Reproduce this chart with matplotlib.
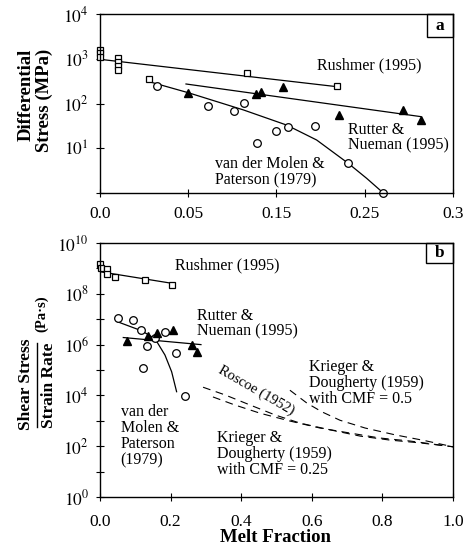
import matplotlib
matplotlib.use("Agg")
import matplotlib.pyplot as plt
from matplotlib.patches import Rectangle
from matplotlib.lines import Line2D
from matplotlib.ticker import NullLocator, FixedLocator, NullFormatter

plt.rcParams['font.family'] = 'Liberation Serif'
plt.rcParams['mathtext.fontset'] = 'stix'

# (a) differential stress vs melt fraction
rush_a_x = [0, 0, 0, 0.0156, 0.0156, 0.0156, 0.0156, 0.0419, 0.1252, 0.2011]
rush_a_y = [1600, 1350, 1100, 1050, 850, 700, 560, 348, 473, 246]
rutter_a_x = [0.0751, 0.1326, 0.1368, 0.1553, 0.2034, 0.2578, 0.2725]
rutter_a_y = [169, 163, 184, 230, 55, 72, 43]
vdm_a_x = [0.0487, 0.0915, 0.1141, 0.1224, 0.1331, 0.150, 0.160, 0.1827, 0.211, 0.2408]
vdm_a_y = [246, 88, 69, 101, 12.9, 24.7, 30.3, 32, 4.6, 1.0]

rush_fit_a_x = [0, 0.2011]
rush_fit_a_y = [972, 238]
rutter_fit_a_x = [0.0731, 0.2725]
rutter_fit_a_y = [273, 51]
vdm_fit_a_x = [0.0419, 0.0751, 0.1218, 0.1586, 0.1841, 0.211, 0.2266, 0.2408]
vdm_fit_a_y = [307, 174, 72, 33, 15.3, 4.6, 2.13, 1.0]

xticks_a = [0, 0.075, 0.15, 0.225, 0.3]
xticklabels_a = ['0.0', '0.05', '0.15', '0.25', '0.3']

# (b) shear stress / strain rate vs melt fraction
rush_b_x = [0, 0.003, 0.019, 0.019, 0.0425, 0.127, 0.203]
rush_b_y = [1.45e9, 1.07e9, 9.5e8, 6.0e8, 4.7e8, 3.5e8, 2.3e8]
rutter_b_x = [0.0755, 0.137, 0.1605, 0.2077, 0.2597, 0.274]
rutter_b_y = [1.4e6, 2.2e6, 2.75e6, 3.7e6, 9.5e5, 5.2e5]
vdm_b_x = [0.050, 0.0944, 0.116, 0.123, 0.134, 0.156, 0.184, 0.214, 0.241]
vdm_b_y = [1.1e7, 9.3e6, 3.7e6, 1.2e5, 9.1e5, 1.8e6, 3.2e6, 4.8e5, 9.8e3]

rush_fit_b_x = [0, 0.203]
rush_fit_b_y = [7.4e8, 2.6e8]
rutter_fit_b_x = [0.066, 0.286]
rutter_fit_b_y = [1.9e6, 1.0e6]
vdm_fit_b_x = [0.050, 0.118, 0.156, 0.184, 0.203, 0.217]
vdm_fit_b_y = [7.9e6, 3.5e6, 1.7e6, 3.9e5, 8.5e4, 1.4e4]

roscoe_x = [0.292, 0.354, 0.425, 0.496, 0.567, 0.652, 0.737, 0.82, 0.907, 1.0]
roscoe_y = [21000, 10500, 4200, 1700, 810, 440, 250, 175, 135, 95]
kd25_x = [0.32, 0.382, 0.453, 0.538, 0.623, 0.708, 0.793, 0.878, 1.0]
kd25_y = [8700, 4200, 2000, 980, 520, 330, 210, 160, 95]
kd50_x = [0.538, 0.586, 0.629, 0.68, 0.751, 0.836, 0.921, 1.0]
kd50_y = [16000, 5000, 2240, 1050, 520, 280, 165, 95]

fig = plt.figure(figsize=(4.69, 5.58), dpi=100)
ax1 = fig.add_axes([0.2132, 0.6541, 0.7527, 0.3208])
ax2 = fig.add_axes([0.2132, 0.1093, 0.7527, 0.4552])

lw = 0.9
sq = dict(marker='s', ms=5, mfc='white', mec='black', mew=0.9, ls='none', clip_on=False)
ci = dict(marker='o', ms=5.5, mfc='white', mec='black', mew=0.9, ls='none', clip_on=False)
tr = dict(marker='^', ms=6, mfc='black', mec='black', ls='none', clip_on=False)

# panel a
ax1.plot(rush_fit_a_x, rush_fit_a_y, 'k-', lw=lw)
ax1.plot(rutter_fit_a_x, rutter_fit_a_y, 'k-', lw=lw)
ax1.plot(vdm_fit_a_x, vdm_fit_a_y, 'k-', lw=lw)
ax1.plot(rush_a_x, rush_a_y, **sq)
ax1.plot(vdm_a_x, vdm_a_y, **ci)
ax1.plot(rutter_a_x, rutter_a_y, **tr)
ax1.set_yscale('log')
ax1.set_ylim(1, 1e4)
ax1.set_xlim(0, 0.3)
ax1.yaxis.set_major_locator(FixedLocator([1, 10, 100, 1000, 10000]))
ax1.set_yticklabels(['', '$10^1$', '$10^2$', '$10^3$', '$10^4$'])
ax1.yaxis.set_minor_locator(NullLocator())
ax1.set_xticks(xticks_a)
ax1.set_xticklabels(xticklabels_a)
ax1.tick_params(axis='x', direction='inout', length=6, width=0.8, labelsize=12.5, pad=6)
ax1.tick_params(axis='y', direction='inout', length=6, width=0.8, labelsize=12.5, pad=5)

fs = 11.5
ax1.text(0.6156, 0.711, 'Rushmer (1995)', transform=ax1.transAxes, fontsize=fs, va='center')
ax1.text(0.7034, 0.310, 'Rutter &\nNueman (1995)', transform=ax1.transAxes, fontsize=fs,
         va='center', linespacing=1.0)
ax1.text(0.3258, 0.117, 'van der Molen &\nPaterson (1979)', transform=ax1.transAxes, fontsize=fs,
         va='center', linespacing=1.0)
ax1.add_patch(Rectangle((1 - 0.0737, 1 - 0.1285), 0.0737, 0.1285, transform=ax1.transAxes,
                        fill=False, lw=1.0, clip_on=False))
ax1.text(1 - 0.0737 / 2, 1 - 0.1285 / 2, 'a', transform=ax1.transAxes, fontsize=12.5,
         fontweight='bold', ha='center', va='center')

# panel b
ax2.plot(rush_fit_b_x, rush_fit_b_y, 'k-', lw=lw)
ax2.plot(rutter_fit_b_x, rutter_fit_b_y, 'k-', lw=lw)
ax2.plot(vdm_fit_b_x, vdm_fit_b_y, 'k-', lw=lw)
ax2.plot(rush_b_x, rush_b_y, **sq)
ax2.plot(vdm_b_x, vdm_b_y, **ci)
ax2.plot(rutter_b_x, rutter_b_y, **tr)
dash = (0, (7, 5))
ax2.plot(roscoe_x, roscoe_y, color='k', lw=0.8, ls=dash)
ax2.plot(kd25_x, kd25_y, color='k', lw=0.8, ls=dash)
ax2.plot(kd50_x, kd50_y, color='k', lw=0.8, ls=dash)
ax2.set_yscale('log')
ax2.set_ylim(1, 1e10)
ax2.set_xlim(0, 1.0)
ax2.yaxis.set_major_locator(FixedLocator([1, 1e2, 1e4, 1e6, 1e8, 1e10]))
ax2.set_yticklabels(['$10^0$', '$10^2$', '$10^4$', '$10^6$', '$10^8$', '$10^{10}$'])
ax2.yaxis.set_minor_locator(FixedLocator([10, 1e3, 1e5, 1e7, 1e9]))
ax2.yaxis.set_minor_formatter(NullFormatter())
ax2.set_xticks([0, 0.2, 0.4, 0.6, 0.8, 1.0])
ax2.set_xticklabels(['0.0', '0.2', '0.4', '0.6', '0.8', '1.0'])
ax2.tick_params(axis='x', direction='inout', length=6, width=0.8, labelsize=12.5, pad=9)
ax2.tick_params(axis='y', which='both', direction='inout', length=6, width=0.8,
                labelsize=12.5, pad=5)

ax2.text(0.2125, 0.913, 'Rushmer (1995)', transform=ax2.transAxes, fontsize=fs, va='center')
ax2.text(0.275, 0.683, 'Rutter &\nNueman (1995)', transform=ax2.transAxes, fontsize=fs,
         va='center', linespacing=0.95)
ax2.text(0.0586, 0.240, 'van der\nMolen &\nPaterson\n(1979)', transform=ax2.transAxes,
         fontsize=fs, va='center', linespacing=1.0)
ax2.text(0.3306, 0.169, 'Krieger &\nDougherty (1959)\nwith CMF = 0.25', transform=ax2.transAxes,
         fontsize=fs, va='center', linespacing=1.0)
ax2.text(0.591, 0.450, 'Krieger &\nDougherty (1959)\nwith CMF = 0.5', transform=ax2.transAxes,
         fontsize=fs, va='center', linespacing=1.0)
ax2.text(0.444, 10 ** 4.21, 'Roscoe (1952)', fontsize=10.5, rotation=-30,
         ha='center', va='center', rotation_mode='anchor')
ax2.add_patch(Rectangle((1 - 0.0765, 1 - 0.0787), 0.0765, 0.0787, transform=ax2.transAxes,
                        fill=False, lw=1.0, clip_on=False))
ax2.text(1 - 0.0765 / 2, 1 - 0.0787 / 2, 'b', transform=ax2.transAxes, fontsize=12.5,
         fontweight='bold', ha='center', va='center')

for ax in (ax1, ax2):
    for s in ax.spines.values():
        s.set_linewidth(1.0)

# axis titles
W, H = 469.0, 558.0
fig.text(26 / W, 1 - 95 / H, 'Differential', rotation=90, fontsize=13.5, fontweight='bold',
         ha='center', va='center')
fig.text(44 / W, 1 - 100 / H, 'Stress (MPa)', rotation=90, fontsize=13.5, fontweight='bold',
         ha='center', va='center')
fig.text(26 / W, 1 - 384 / H, 'Shear Stress', rotation=90, fontsize=12.5, fontweight='bold',
         ha='center', va='center')
fig.text(49 / W, 1 - 385 / H, 'Strain Rate', rotation=90, fontsize=12.5, fontweight='bold',
         ha='center', va='center')
fig.add_artist(Line2D([37 / W, 37 / W], [1 - 427 / H, 1 - 343 / H], color='k', lw=1.0))
fig.text(42 / W, 1 - 314 / H, '(Pa·s)', rotation=90, fontsize=10.5, fontweight='bold',
         ha='center', va='center')
fig.text(276 / W, 1 - 538 / H, 'Melt Fraction', fontsize=13.5, fontweight='bold',
         ha='center', va='center')

fig.savefig('out.png', dpi=100)
